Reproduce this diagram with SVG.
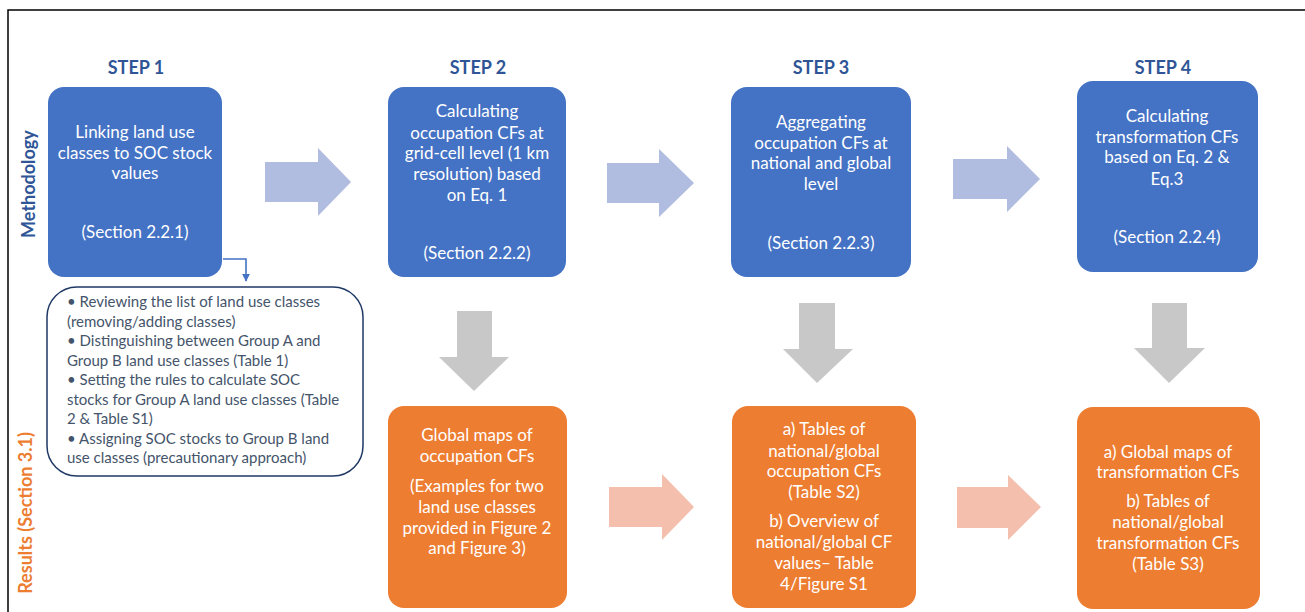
<svg xmlns="http://www.w3.org/2000/svg" width="1305" height="612" viewBox="0 0 1305 612">
<defs>
<style>
.step{font-family:Lato,"Liberation Sans",sans-serif;font-weight:bold;font-size:18px;fill:#2F5597;text-anchor:middle}
.blue{fill:#4472C4}
.orange{fill:#ED7D31}
.bt{font-family:Lato,"Liberation Sans",sans-serif;font-size:17px;fill:#FFFFFF;text-anchor:middle}
.bl{font-family:Lato,"Liberation Sans",sans-serif;font-size:15px;fill:#44546A}
.side{font-family:Lato,"Liberation Sans",sans-serif;font-weight:bold;font-size:18px;text-anchor:middle}
.ab{fill:#B0BCE0}
.ag{fill:#C8C8C8}
.ap{fill:#F4BFAD}
</style>
<marker id="ah" viewBox="0 0 10 10" refX="9" refY="5" markerWidth="5" markerHeight="5" orient="auto" markerUnits="strokeWidth">
<path d="M0,0 L10,5 L0,10 Z" fill="#4472C4"/>
</marker>
</defs>
<rect width="1305" height="612" fill="#FFFFFF"/>
<path d="M8,612 V10 H1305" fill="none" stroke="#000000" stroke-width="1.5"/>

<g id="labels">
<text class="side" fill="#2F5597" transform="translate(35,184) rotate(-90)">Methodology</text>
<text class="side" fill="#ED7D31" transform="translate(32,513) rotate(-90)">Results (Section 3.1)</text>
<text class="step" x="136" y="74">STEP 1</text>
<text class="step" x="478" y="74">STEP 2</text>
<text class="step" x="821" y="74">STEP 3</text>
<text class="step" x="1163" y="74">STEP 4</text>
</g>

<g id="step1">
<rect class="blue" x="48" y="87" width="174" height="190" rx="16"/>
<text class="bt"><tspan x="135" y="138">Linking land use</tspan><tspan x="135" y="159">classes to SOC stock</tspan><tspan x="135" y="179">values</tspan><tspan x="135" y="238">(Section 2.2.1)</tspan></text>
</g>

<g id="step2">
<rect class="blue" x="388" y="87" width="178" height="190" rx="16"/>
<text class="bt"><tspan x="477" y="117">Calculating</tspan><tspan x="477" y="139">occupation CFs at</tspan><tspan x="477" y="159">grid-cell level (1 km</tspan><tspan x="477" y="180">resolution) based</tspan><tspan x="477" y="201">on Eq. 1</tspan><tspan x="477" y="259">(Section 2.2.2)</tspan></text>
</g>

<g id="step3">
<rect class="blue" x="731" y="87" width="180" height="190" rx="16"/>
<text class="bt"><tspan x="821" y="128">Aggregating</tspan><tspan x="821" y="149">occupation CFs at</tspan><tspan x="821" y="169">national and global</tspan><tspan x="821" y="190">level</tspan><tspan x="821" y="249">(Section 2.2.3)</tspan></text>
</g>

<g id="step4">
<rect class="blue" x="1077" y="81" width="181" height="191" rx="16"/>
<text class="bt"><tspan x="1167" y="122">Calculating</tspan><tspan x="1167" y="143">transformation CFs</tspan><tspan x="1167" y="163">based on Eq. 2 &amp;</tspan><tspan x="1167" y="185">Eq.3</tspan><tspan x="1167" y="243">(Section 2.2.4)</tspan></text>
</g>

<g id="details1">
<rect x="47" y="287" width="316" height="189" rx="30" fill="#FFFFFF" stroke="#1F3864" stroke-width="1.5"/>
<text class="bl"><tspan x="67" y="307">•  Reviewing the list of land use classes</tspan><tspan x="67" y="327">(removing/adding classes)</tspan><tspan x="67" y="346">•  Distinguishing between Group A and</tspan><tspan x="67" y="366">Group B land use classes (Table 1)</tspan><tspan x="67" y="385">•  Setting the rules to calculate SOC</tspan><tspan x="67" y="405">stocks for Group A land use classes (Table</tspan><tspan x="67" y="424">2 &amp; Table S1)</tspan><tspan x="67" y="444">•  Assigning SOC stocks to Group B land</tspan><tspan x="67" y="463">use classes (precautionary approach)</tspan></text>
</g>

<g id="result2">
<rect class="orange" x="388" y="406" width="179" height="202" rx="16"/>
<text class="bt"><tspan x="477" y="441">Global maps of</tspan><tspan x="477" y="462">occupation CFs</tspan><tspan x="477" y="492">(Examples for two</tspan><tspan x="477" y="513">land use classes</tspan><tspan x="477" y="534">provided in Figure 2</tspan><tspan x="477" y="554">and Figure 3)</tspan></text>
</g>

<g id="result3">
<rect class="orange" x="732" y="406" width="184" height="202" rx="16"/>
<text class="bt"><tspan x="824" y="435">a) Tables of</tspan><tspan x="824" y="457">national/global</tspan><tspan x="824" y="477">occupation CFs</tspan><tspan x="824" y="498">(Table S2)</tspan><tspan x="824" y="527">b) Overview of</tspan><tspan x="824" y="548">national/global CF</tspan><tspan x="824" y="569">values– Table</tspan><tspan x="824" y="590">4/Figure S1</tspan></text>
</g>

<g id="result4">
<rect class="orange" x="1077" y="407" width="183" height="202" rx="16"/>
<text class="bt"><tspan x="1168" y="458">a) Global maps of</tspan><tspan x="1168" y="478">transformation CFs</tspan><tspan x="1168" y="507">b) Tables of</tspan><tspan x="1168" y="528">national/global</tspan><tspan x="1168" y="549">transformation CFs</tspan><tspan x="1168" y="570">(Table S3)</tspan></text>
</g>

<g id="connectors">
<path d="M223,259 H246 V281" fill="none" stroke="#4472C4" stroke-width="1.6" marker-end="url(#ah)"/>
<path class="ab" d="M265,162 H318 V148 L351,182 L318,216 V202 H265 Z"/>
<path class="ab" d="M607,163 H659 V149 L694,183 L659,217 V203 H607 Z"/>
<path class="ab" d="M953,159 H1007 V146 L1040,179 L1007,212 V199 H953 Z"/>
<path class="ag" d="M457,311 H492 V357 H509 L474,391 L439,357 H457 Z"/>
<path class="ag" d="M799,303 H835 V349 H853 L817,383 L783,349 H799 Z"/>
<path class="ag" d="M1152,303 H1187 V348 H1205 L1169,383 L1134,348 H1152 Z"/>
<path class="ap" d="M609,487 H662 V474 L694,507 L662,540 V527 H609 Z"/>
<path class="ap" d="M957,487 H1008 V475 L1041,507 L1008,540 V528 H957 Z"/>
</g>
</svg>
